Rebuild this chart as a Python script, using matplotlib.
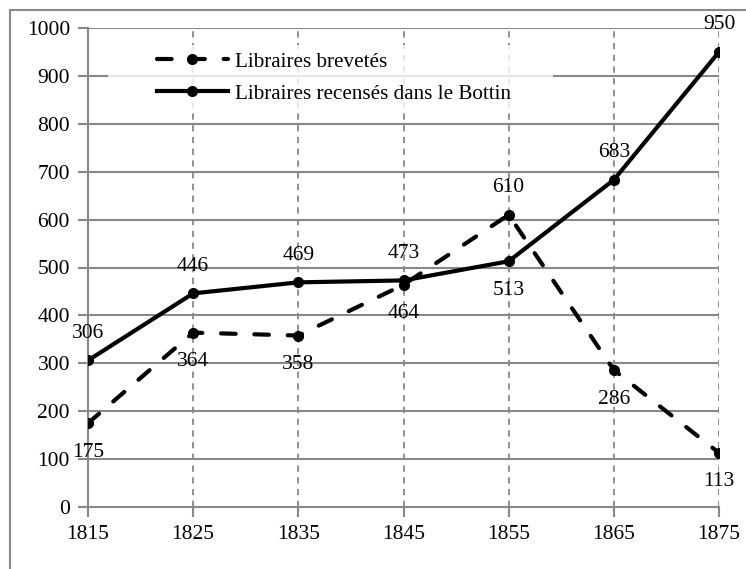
import matplotlib
matplotlib.use("Agg")
import matplotlib.pyplot as plt
from matplotlib.patches import Rectangle

years = [1815, 1825, 1835, 1845, 1855, 1865, 1875]
brevetes = [175, 364, 358, 464, 610, 286, 113]
bottin = [306, 446, 469, 473, 513, 683, 950]
label_brevetes = "Libraires brevetés"
label_bottin = "Libraires recensés dans le Bottin"
# label placement: +1 above, -1 below
pos_brevetes = [-1, -1, -1, -1, 1, -1, -1]
pos_bottin = [1, 1, 1, 1, -1, 1, 1]

plt.rcParams['font.family'] = ['Liberation Serif', 'DejaVu Serif']
W, H = 746, 569
FS = 15.5
fig = plt.figure(figsize=(W / 100, H / 100), dpi=100)

# outer chart border
fig.patches.append(Rectangle((10 / W, -0.1), 1.2, (H - 10) / H + 0.1, transform=fig.transFigure,
                             fill=False, edgecolor='#888888', linewidth=1.5, zorder=0))

ax = fig.add_axes([88 / W, 1 - 507 / H, (719 - 88) / W, (507 - 28) / H])
ax.set_xlim(1815, 1875)
ax.set_ylim(0, 1000)
ax.set_xticks(years)
ax.set_yticks(range(0, 1001, 100))
ax.tick_params(axis='both', labelsize=FS, color='#888888', length=7, width=1.5, direction='out')
ax.tick_params(axis='y', pad=6)
ax.tick_params(axis='x', pad=6)
for s in ['top', 'right']:
    ax.spines[s].set_visible(False)
for s in ['left', 'bottom']:
    ax.spines[s].set_color('#888888')
    ax.spines[s].set_linewidth(1.5)
ax.set_axisbelow(True)
for yv in range(100, 1001, 100):
    ax.axhline(yv, color='#888888', linewidth=1.5, zorder=0)
for xv in years[1:]:
    ax.axvline(xv, color='#888888', linewidth=1.3, linestyle=(0, (3.5, 3)), zorder=0)

l1, = ax.plot(years, brevetes, color='black', linewidth=3, marker='o', markersize=7,
              linestyle=(0, (3.5, 4.5)), dash_capstyle='round', label=label_brevetes, zorder=3)
l2, = ax.plot(years, bottin, color='black', linewidth=3, marker='o', markersize=7,
              linestyle='-', label=label_bottin, zorder=3)

for xs, ys, ps in [(years, brevetes, pos_brevetes), (years, bottin, pos_bottin)]:
    for x, y, p in zip(xs, ys, ps):
        ax.annotate(str(y), (x, y), xytext=(0, 27 if p > 0 else -29), textcoords='offset pixels',
                    ha='center', va='center', fontsize=FS, zorder=4)

# legend background (semi-transparent white), above gridlines, below data
bg = Rectangle((108 / W, 1 - 112 / H), (553 - 108) / W, (112 - 45) / H,
               transform=fig.transFigure, facecolor='white', alpha=0.8,
               edgecolor='none', zorder=1)
ax.add_artist(bg)
leg = ax.legend(handles=[l1, l2], loc='upper left', bbox_to_anchor=(157 / W, 1 - 52 / H),
                bbox_transform=fig.transFigure, fontsize=15.2, frameon=False,
                handlelength=3.36, handletextpad=0.33, borderpad=0, labelspacing=0.57,
                borderaxespad=0)
leg.set_zorder(5)

fig.savefig('out.png', dpi=100)
